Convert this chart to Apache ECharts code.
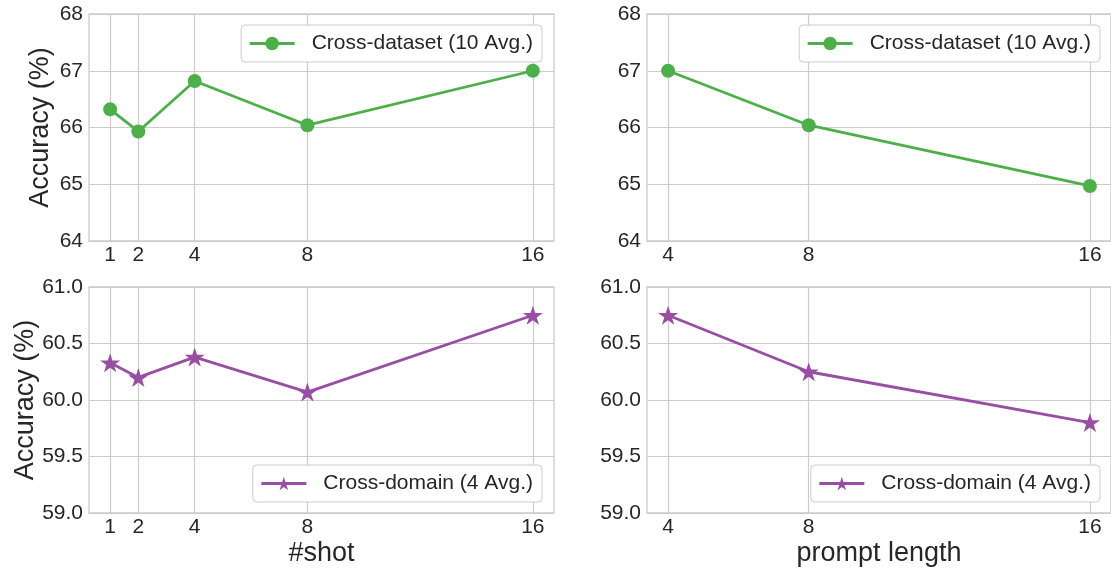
<!DOCTYPE html>
<html>
<head>
<meta charset="utf-8">
<script src="https://cdn.jsdelivr.net/npm/echarts@6/dist/echarts.min.js"></script>
<style>html,body{margin:0;padding:0;background:#fff}#c{width:1111px;height:569px}</style>
</head>
<body>
<div id="c"></div>
<script>
// ---- data ----
const shotX = [1, 2, 4, 8, 16];
const shotDataset = [66.32, 65.93, 66.82, 66.04, 67.0];
const shotDomain = [60.33, 60.20, 60.38, 60.07, 60.75];
const lenX = [4, 8, 16];
const lenDataset = [67.0, 66.04, 64.97];
const lenDomain = [60.75, 60.25, 59.80];
const nameDataset = 'Cross-dataset (10 Avg.)';
const nameDomain = 'Cross-domain (4 Avg.)';
const topTicks = [64, 65, 66, 67, 68];
const botTicks = [59.0, 59.5, 60.0, 60.5, 61.0];

const GREEN = '#4daf4a', PURPLE = '#984ea3';
const FONT = 'Liberation Sans, Arial, sans-serif';
const TXT = '#262626';
const GRIDC = '#cccccc';
const STAR = 'path://M100,0 L122.45,69.1 L195.1,69.1 L136.3,111.8 L158.8,180.9 L100,138.2 L41.2,180.9 L63.7,111.8 L4.9,69.1 L77.55,69.1 Z';

function pairs(xs, ys) { return xs.map((x, i) => [x, ys[i]]); }

const grids = [
  {left: 89, top: 14, width: 465, height: 227},
  {left: 647, top: 14, width: 465, height: 227},
  {left: 89, top: 287, width: 465, height: 226},
  {left: 647, top: 287, width: 465, height: 226}
].map(g => Object.assign(g, {show: true, borderColor: GRIDC, borderWidth: 1.3, backgroundColor: 'transparent', containLabel: false}));

function xAxis(idx, min, max, ticks, name) {
  return {
    type: 'value', gridIndex: idx, min: min, max: max,
    axisLine: {show: false},
    axisTick: {show: false, customValues: ticks},
    axisLabel: {customValues: ticks, color: TXT, fontSize: 21, fontFamily: FONT, margin: 4},
    splitLine: {show: true, lineStyle: {color: GRIDC, width: 1.2}},
    name: name, nameLocation: 'middle', nameGap: 27, nameMoveOverlap: false,
    nameTextStyle: {color: TXT, fontSize: 27, fontFamily: FONT}
  };
}
function yAxis(idx, min, max, interval, dec, name, gap) {
  return {
    type: 'value', gridIndex: idx, min: min, max: max, interval: interval,
    axisLine: {show: false}, axisTick: {show: false},
    axisLabel: {color: TXT, fontSize: 21, fontFamily: FONT, margin: 6, formatter: v => v.toFixed(dec)},
    splitLine: {show: true, lineStyle: {color: GRIDC, width: 1.2}},
    name: name, nameLocation: 'middle', nameGap: gap, nameMoveOverlap: false,
    nameTextStyle: {color: TXT, fontSize: 27, fontFamily: FONT}
  };
}
function legend(name, right, top) {
  return {
    data: [name], right: right, top: top, orient: 'horizontal',
    backgroundColor: '#fff', borderColor: GRIDC, borderWidth: 1, borderRadius: 4,
    padding: [8, 9, 8, 7], itemWidth: 45, itemHeight: 17, itemGap: 10,
    lineStyle: {width: 3},
    textStyle: {color: TXT, fontSize: 21, fontFamily: FONT, padding: [0, 0, 0, 12]},
    selectedMode: false
  };
}
function series(name, idx, data, color, symbol, size) {
  return {
    type: 'line', name: name, xAxisIndex: idx, yAxisIndex: idx, data: data,
    symbol: symbol, symbolSize: size, symbolKeepAspect: true, showAllSymbol: true,
    lineStyle: {color: color, width: 2.8}, itemStyle: {color: color},
    emphasis: {disabled: true}, animation: false, z: 5
  };
}

const option = {
  animation: false,
  backgroundColor: '#fff',
  grid: grids,
  xAxis: [
    xAxis(0, 0.25, 16.75, shotX, ''),
    xAxis(1, 3.4, 16.6, lenX, ''),
    xAxis(2, 0.25, 16.75, shotX, '#shot'),
    xAxis(3, 3.4, 16.6, lenX, 'prompt length')
  ],
  yAxis: [
    yAxis(0, topTicks[0], topTicks[topTicks.length - 1], 1, 0, 'Accuracy (%)', 35),
    yAxis(1, topTicks[0], topTicks[topTicks.length - 1], 1, 0, '', 35),
    yAxis(2, botTicks[0], botTicks[botTicks.length - 1], 0.5, 1, 'Accuracy (%)', 50),
    yAxis(3, botTicks[0], botTicks[botTicks.length - 1], 0.5, 1, '', 50)
  ],
  legend: [
    legend(nameDataset, 1111 - 542, 25),
    legend(nameDataset, 11, 25),
    legend(nameDomain, 1111 - 542, 465),
    legend(nameDomain, 11, 465)
  ],
  series: [
    series(nameDataset, 0, pairs(shotX, shotDataset), GREEN, 'circle', 14),
    series(nameDataset, 1, pairs(lenX, lenDataset), GREEN, 'circle', 14),
    series(nameDomain, 2, pairs(shotX, shotDomain), PURPLE, STAR, 20),
    series(nameDomain, 3, pairs(lenX, lenDomain), PURPLE, STAR, 20)
  ]
};
const chart = echarts.init(document.getElementById('c'), null, {renderer: 'canvas'});
chart.setOption(option);
</script>
</body>
</html>
